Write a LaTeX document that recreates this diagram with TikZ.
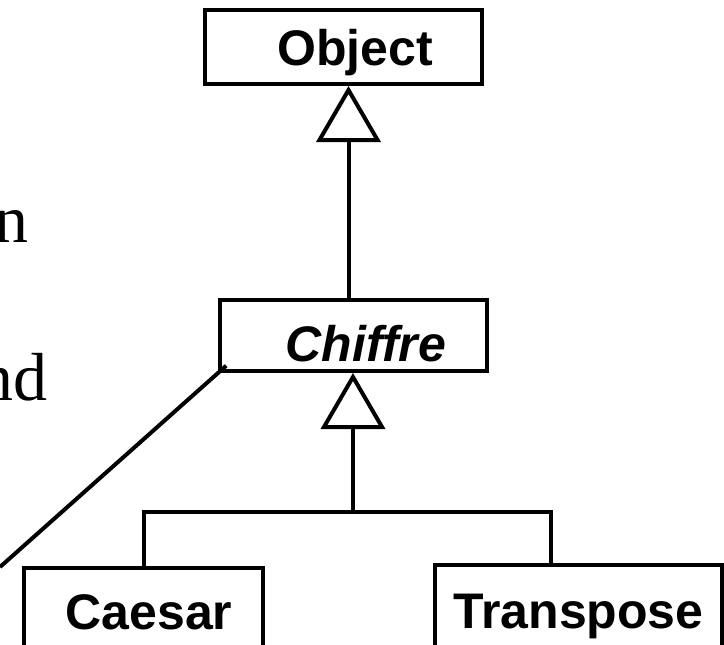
\documentclass[tikz,border=0pt]{standalone}
\usepackage{fontspec}
\setmainfont{Liberation Serif}
\setsansfont{Liberation Sans}
\usetikzlibrary{arrows.meta}

\begin{document}
\begin{tikzpicture}[
    x=1pt, y=-1pt,
    cls/.style={draw=black, line width=4pt, inner sep=0pt,
                font=\sffamily\bfseries\fontsize{50}{60}\selectfont,
                text height=36pt, text depth=0pt},
    nudge/.style={execute at begin node=\hspace*{#1}},
    link/.style={line width=4pt},
    inherit/.style={-{Triangle[open, length=56pt, width=64pt]}, line width=4pt, line join=miter},
    word/.style={font=\fontsize{68}{80}\selectfont, inner sep=0pt, anchor=base east}
]
\useasboundingbox (0,0) rectangle (724,645);
\clip (0,0) rectangle (724,645);

\node[cls, nudge=23pt, minimum width=277pt, minimum height=74pt] (obj) at (343.5,47) {Object};
\node[cls, nudge=25pt, text height=52pt, minimum width=267pt, minimum height=71pt] (chf) at (353.5,335.5) {\itshape Chiffre};
\node[cls, nudge=11pt, minimum width=239pt, minimum height=87pt] (cae) at (143.5,611.5) {Caesar};
\node[cls, minimum width=287pt, minimum height=90pt] (trp) at (578.5,610) {Transpose};

\node[word] (w1) at (29,242) {n};
\node[word] (w2) at (48,400) {nd};

\coordinate (up) at ([xshift=-5pt]chf.north);
\coordinate (fork) at (353,512);
\coordinate (tail) at (0,567);

\draw[inherit] (up) -- (up |- obj.south);
\draw[inherit] (fork) -- (fork |- chf.south);
\draw[link] (cae.north) |- (fork) -| ([xshift=-27.5pt]trp.north);
\draw[link, shorten <=-11pt] (chf.south west) -- (tail);
\end{tikzpicture}
\end{document}
